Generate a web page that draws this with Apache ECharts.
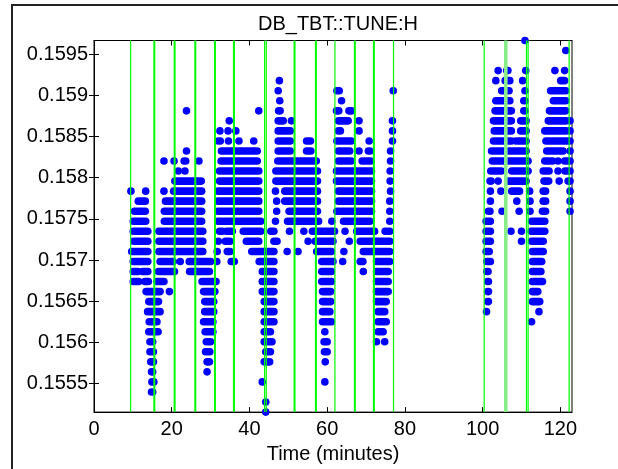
<!DOCTYPE html>
<html><head><meta charset="utf-8">
<script src="https://cdn.jsdelivr.net/npm/echarts@6/dist/echarts.min.js"></script>
<style>html,body{margin:0;padding:0;background:#fff}#c{width:618px;height:469px}</style>
</head><body><div id="c"></div>
<script>
const chartTitle = 'DB_TBT::TUNE:H';
const xAxisName = 'Time (minutes)';
const xTicks = [0, 20, 40, 60, 80, 100, 120];
const yTicks = [0.1555, 0.156, 0.1565, 0.157, 0.1575, 0.158, 0.1585, 0.159, 0.1595];

// vertical event lines (minutes)
const thinMarkers = [9.43, 43.90, 44.33, 61.99, 77.08, 100.40, 111.28, 111.71, 122.26];
const thickMarkers = [15.52, 20.75, 26.06, 31.12, 36.01, 51.61, 57.10, 67.13, 72.02];
const wideMarkers = [105.97];

// runs of samples: [tStart, tEnd, tune]
const burstA = [
[23.8,23.8,0.158813],
[23.8,23.8,0.158325],
[18.0,18.0,0.158203],[20.6,20.6,0.158203],[23.2,23.6,0.158203],[27.0,27.0,0.158203],
[21.7,21.7,0.158081],[23.4,23.4,0.158081],
[20.8,27.6,0.157959],
[9.5,9.5,0.157837],[13.3,13.3,0.157837],[18.0,18.0,0.157837],[20.5,27.7,0.157837],
[11.4,13.2,0.157715],[18.4,27.7,0.157715],
[10.4,13.2,0.157593],[18.1,27.7,0.157593],
[10.1,13.3,0.157471],[18.1,27.7,0.157471],
[10.1,13.85,0.157349],[16.7,28.0,0.157349],
[10.2,13.85,0.157227],[16.7,28.0,0.157227],
[9.7,13.85,0.157104],[16.7,28.0,0.157104],
[10.1,13.85,0.156982],[17.0,20.4,0.156982],[22.2,22.2,0.156982],[24.5,30.0,0.156982],
[10.1,11.3,0.156860],[12.5,13.85,0.156860],[16.6,20.7,0.156860],[24.6,29.7,0.156860],
[10.1,11.5,0.156738],[13.1,14.0,0.156738],[16.2,18.0,0.156738],[27.8,31.4,0.156738],
[13.4,17.0,0.156616],[19.4,19.4,0.156616],[28.2,31.1,0.156616],
[14.1,16.6,0.156494],[28.5,30.8,0.156494],
[13.8,17.0,0.156372],[28.5,30.8,0.156372],
[14.2,16.2,0.156250],[28.2,30.6,0.156250],
[14.1,16.5,0.156128],[28.6,30.6,0.156128],
[14.4,15.1,0.156006],[28.9,30.0,0.156006],
[14.4,15.3,0.155884],[28.7,29.8,0.155884],
[14.6,15.3,0.155762],[29.1,29.7,0.155762],
[14.8,15.1,0.155640],[29.1,29.1,0.155640],
[14.9,15.4,0.155518],
[14.8,15.1,0.155396]
];

const burstB = [
[42.4,42.4,0.158813],
[34.8,34.8,0.158691],
[32.4,32.4,0.158569],[34.5,34.5,0.158569],[36.5,36.5,0.158569],
[32.0,32.5,0.158447],[34.6,34.6,0.158447],[37.3,37.3,0.158447],[41.1,41.1,0.158447],
[32.8,42.0,0.158325],
[32.7,42.0,0.158203],
[32.3,42.4,0.158081],
[32.3,42.4,0.157959],
[31.9,42.4,0.157837],
[31.9,42.4,0.157715],
[31.9,42.4,0.157593],
[31.9,42.9,0.157471],
[32.3,33.0,0.157349],[34.1,35.6,0.157349],[38.4,42.9,0.157349],
[32.0,32.0,0.157227],[33.8,35.0,0.157227],[39.2,42.4,0.157227],
[31.7,31.7,0.157104],[34.3,35.0,0.157104],[40.6,46.3,0.157104],
[31.6,31.6,0.156982],[35.3,36.1,0.156982],[42.5,46.3,0.156982],
[43.3,46.3,0.156860],
[43.3,46.3,0.156738],
[43.3,46.3,0.156616],
[43.8,46.3,0.156494],
[43.8,46.3,0.156372],
[43.8,46.3,0.156250],
[43.8,45.4,0.156128],
[43.8,45.8,0.156006],
[44.2,45.4,0.155884],
[43.8,45.2,0.155762],
[43.3,43.3,0.155518],
[44.2,44.2,0.155273],
[44.2,44.2,0.155151]
];

const burstC = [
[47.7,47.7,0.159180],
[47.4,47.4,0.159058],
[47.8,47.8,0.158936],
[47.5,47.9,0.158813],
[47.4,48.7,0.158691],[50.8,50.8,0.158691],
[47.4,50.5,0.158569],
[47.4,50.5,0.158447],[54.7,55.7,0.158447],
[47.4,50.5,0.158325],[54.7,55.8,0.158325],
[47.3,57.2,0.158203],
[46.8,57.5,0.158081],
[46.8,57.5,0.157959],
[46.7,46.7,0.157837],[49.1,57.5,0.157837],
[47.0,47.0,0.157715],[49.1,57.5,0.157715],
[47.0,47.0,0.157593],[50.2,57.5,0.157593],
[46.7,46.7,0.157471],[49.8,57.8,0.157471],
[45.5,46.3,0.157349],[50.3,50.3,0.157349],[54.0,54.0,0.157349],[56.2,61.9,0.157349],
[46.3,47.1,0.157227],[55.1,55.1,0.157227],[56.9,61.5,0.157227],
[49.7,49.7,0.157104],[52.5,52.5,0.157104],[57.3,61.1,0.157104],
[58.6,61.5,0.156982],
[58.6,61.1,0.156860],
[58.6,61.1,0.156738],
[58.8,60.9,0.156616],
[58.8,60.9,0.156494],
[58.8,60.7,0.156372],
[58.8,61.1,0.156250],
[59.4,59.4,0.156128],
[59.2,60.0,0.156006],
[59.3,60.0,0.155884],
[59.5,59.5,0.155762],
[59.4,59.4,0.155518]
];

const burstE = [
[62.5,63.1,0.159058],[77.0,77.0,0.159058],
[63.7,63.7,0.158936],
[62.4,63.0,0.158813],[65.6,66.3,0.158813],
[62.9,65.4,0.158691],[68.2,68.2,0.158691],[76.8,76.8,0.158691],
[62.9,63.4,0.158569],[68.2,68.2,0.158569],[76.8,76.8,0.158569],
[62.5,66.2,0.158447],[70.8,70.8,0.158447],[76.8,76.8,0.158447],
[62.9,65.8,0.158325],[68.2,68.2,0.158325],[70.6,71.0,0.158325],[76.3,76.3,0.158325],
[62.9,66.2,0.158203],[69.0,71.2,0.158203],[76.3,76.3,0.158203],
[62.4,71.4,0.158081],[76.2,76.2,0.158081],
[62.4,71.4,0.157959],[76.2,76.2,0.157959],
[62.9,71.4,0.157837],[76.3,76.3,0.157837],
[62.9,71.4,0.157715],[76.1,76.1,0.157715],
[62.5,71.4,0.157593],[76.1,76.1,0.157593],
[61.2,61.2,0.157471],[64.2,71.0,0.157471],[76.1,76.1,0.157471],
[64.6,64.6,0.157349],[67.6,72.2,0.157349],[74.9,76.1,0.157349],
[65.7,65.7,0.157227],[68.5,76.1,0.157227],
[64.3,64.3,0.157104],[69.3,76.1,0.157104],
[64.0,64.0,0.156982],[68.5,69.2,0.156982],[72.7,76.1,0.156982],
[69.3,69.3,0.156860],[72.7,75.7,0.156860],
[72.7,75.7,0.156738],
[72.7,75.7,0.156616],
[72.7,75.2,0.156494],
[73.1,74.8,0.156372],
[73.1,75.2,0.156250],
[73.1,74.4,0.156128],
[72.7,72.7,0.156006],[74.8,74.8,0.156006]
];

const burstF = [
[110.9,110.9,0.159668],
[104.0,104.0,0.159302],[106.2,106.5,0.159302],[111.1,111.1,0.159302],
[103.4,103.4,0.159180],[105.8,107.0,0.159180],[110.3,110.3,0.159180],
[104.9,106.8,0.159058],[110.9,110.9,0.159058],
[103.4,107.0,0.158936],[110.6,110.9,0.158936],
[103.2,107.4,0.158813],[110.6,110.9,0.158813],
[102.8,107.4,0.158691],[109.8,111.2,0.158691],
[103.0,107.4,0.158569],[109.8,111.2,0.158569],
[102.8,107.4,0.158447],[108.6,111.2,0.158447],
[102.3,111.2,0.158325],
[102.5,111.7,0.158203],
[102.1,104.8,0.158081],[107.5,111.7,0.158081],
[101.9,102.2,0.157959],[104.0,104.0,0.157959],[106.6,111.2,0.157959],
[102.0,102.0,0.157837],[104.7,104.7,0.157837],[107.5,109.5,0.157837],[112.1,112.1,0.157837],
[102.0,102.0,0.157715],[108.8,108.8,0.157715],[112.2,112.2,0.157715],
[101.5,101.9,0.157593],[105.0,105.0,0.157593],[109.4,109.4,0.157593],[112.2,112.2,0.157593],
[100.9,102.0,0.157471],
[100.9,102.0,0.157349],[107.3,107.3,0.157349],[110.0,110.0,0.157349],
[100.9,102.0,0.157227],[110.0,110.0,0.157227],
[100.9,101.7,0.157104],
[101.1,102.0,0.156982],
[101.1,101.4,0.156860],
[101.3,101.5,0.156738],
[101.3,101.5,0.156616],
[101.3,101.5,0.156494],
[101.0,101.0,0.156372]
];

const burstG = [
[121.4,121.4,0.159546],
[118.6,118.6,0.159302],[121.1,121.1,0.159302],
[120.1,121.1,0.159180],
[117.5,121.4,0.159058],
[118.2,121.4,0.158936],
[117.2,121.4,0.158813],
[116.9,121.5,0.158691],[122.5,122.5,0.158691],
[116.0,121.5,0.158569],[122.5,122.5,0.158569],
[116.3,122.5,0.158447],
[116.5,120.7,0.158325],[122.5,122.5,0.158325],
[116.0,118.0,0.158203],[119.4,119.4,0.158203],[121.1,122.5,0.158203],
[115.6,117.1,0.158081],[119.4,119.4,0.158081],[121.2,122.5,0.158081],
[115.8,117.0,0.157959],[119.7,119.7,0.157959],[122.0,122.5,0.157959],
[115.6,116.2,0.157837],[122.5,122.5,0.157837],
[115.6,116.2,0.157715],[122.5,122.5,0.157715],
[115.4,116.2,0.157593],[122.5,122.5,0.157593],
[112.6,116.0,0.157471],
[112.5,116.0,0.157349],
[112.6,115.6,0.157227],
[112.8,115.6,0.157104],
[112.8,115.2,0.156982],
[112.8,115.0,0.156860],
[112.8,115.4,0.156738],
[112.8,114.2,0.156616],
[112.8,114.7,0.156494],
[114.5,114.5,0.156372],
[112.6,112.6,0.156250]
];

const xMin = 0, xMax = 123;
const yMin = 0.155151, yMax = 0.159668;
const FONT = "'Liberation Sans', Arial, Helvetica, sans-serif";
const DOT_R = 3.8;

function renderRun(params, api) {
  const a = api.coord([api.value(0), api.value(2)]);
  const b = api.coord([api.value(1), api.value(2)]);
  return {
    type: 'rect',
    shape: { x: a[0] - DOT_R, y: a[1] - DOT_R, width: (b[0] - a[0]) + 2 * DOT_R, height: 2 * DOT_R, r: DOT_R },
    style: { fill: '#0000ff' }
  };
}
function markerRenderer(width, color) {
  return function (params, api) {
    const t = api.value(0);
    const p1 = api.coord([t, yMin]);
    const p2 = api.coord([t, yMax]);
    return { type: 'line', shape: { x1: p1[0], y1: p1[1], x2: p2[0], y2: p2[1] },
             style: { stroke: color, lineWidth: width } };
  };
}

const allRuns = [].concat(burstA, burstB, burstC, burstE, burstF, burstG);

const chart = echarts.init(document.getElementById('c'), null, { renderer: 'canvas' });
const axisLineStyle = { color: '#000', width: 1 };
chart.setOption({
  animation: false,
  backgroundColor: '#fff',
  title: {
    text: chartTitle, left: 333, top: 9, textAlign: 'center',
    textStyle: { fontFamily: FONT, fontSize: 20, fontWeight: 'normal', color: '#000' }
  },
  graphic: [{
    type: 'rect', silent: true, z: 100,
    shape: { x: 12, y: 5, width: 700, height: 600 },
    style: { fill: 'transparent', stroke: '#222', lineWidth: 2 }
  }],
  grid: { left: 94, right: 46, top: 40.5, bottom: 52.3, show: true, borderColor: '#000', borderWidth: 1, backgroundColor: '#fff' },
  xAxis: [{
    type: 'value', min: xMin, max: xMax, position: 'bottom',
    axisLine: { show: true, lineStyle: axisLineStyle },
    axisTick: { show: true, inside: true, length: 5, customValues: xTicks, lineStyle: axisLineStyle },
    axisLabel: { customValues: xTicks, color: '#000', fontFamily: FONT, fontSize: 20, margin: 7 },
    splitLine: { show: false },
    name: xAxisName, nameLocation: 'middle', nameGap: 28,
    nameTextStyle: { fontFamily: FONT, fontSize: 20, color: '#000' }
  }, {
    type: 'value', min: xMin, max: xMax, position: 'top',
    axisLine: { show: true, lineStyle: axisLineStyle },
    axisTick: { show: true, inside: true, length: 5, customValues: xTicks, lineStyle: axisLineStyle },
    axisLabel: { show: false }, splitLine: { show: false }
  }],
  yAxis: [{
    type: 'value', min: yMin, max: yMax, position: 'left',
    axisLine: { show: true, lineStyle: axisLineStyle },
    axisTick: { show: true, inside: true, length: 5, customValues: yTicks, lineStyle: axisLineStyle },
    axisLabel: { customValues: yTicks, color: '#000', fontFamily: FONT, fontSize: 20, margin: 6,
                 formatter: v => String(v) },
    splitLine: { show: false }
  }, {
    type: 'value', min: yMin, max: yMax, position: 'right',
    axisLine: { show: true, lineStyle: axisLineStyle },
    axisTick: { show: true, inside: true, length: 5, customValues: yTicks, lineStyle: axisLineStyle },
    axisLabel: { show: false }, splitLine: { show: false }
  }],
  series: [{
    type: 'custom', name: 'tune', renderItem: renderRun, clip: false,
    xAxisIndex: 0, yAxisIndex: 0, z: 2,
    encode: { x: [0, 1], y: 2 }, data: allRuns
  }, {
    type: 'custom', name: 'thin', renderItem: markerRenderer(1.2, '#00ff00'), z: 3,
    xAxisIndex: 0, yAxisIndex: 0, encode: { x: 0 }, data: thinMarkers.map(t => [t])
  }, {
    type: 'custom', name: 'thick', renderItem: markerRenderer(2, '#00ff00'), z: 3,
    xAxisIndex: 0, yAxisIndex: 0, encode: { x: 0 }, data: thickMarkers.map(t => [t])
  }, {
    type: 'custom', name: 'wide', renderItem: markerRenderer(3.6, '#88ee88'), z: 3,
    xAxisIndex: 0, yAxisIndex: 0, encode: { x: 0 }, data: wideMarkers.map(t => [t])
  }]
});
</script></body></html>
